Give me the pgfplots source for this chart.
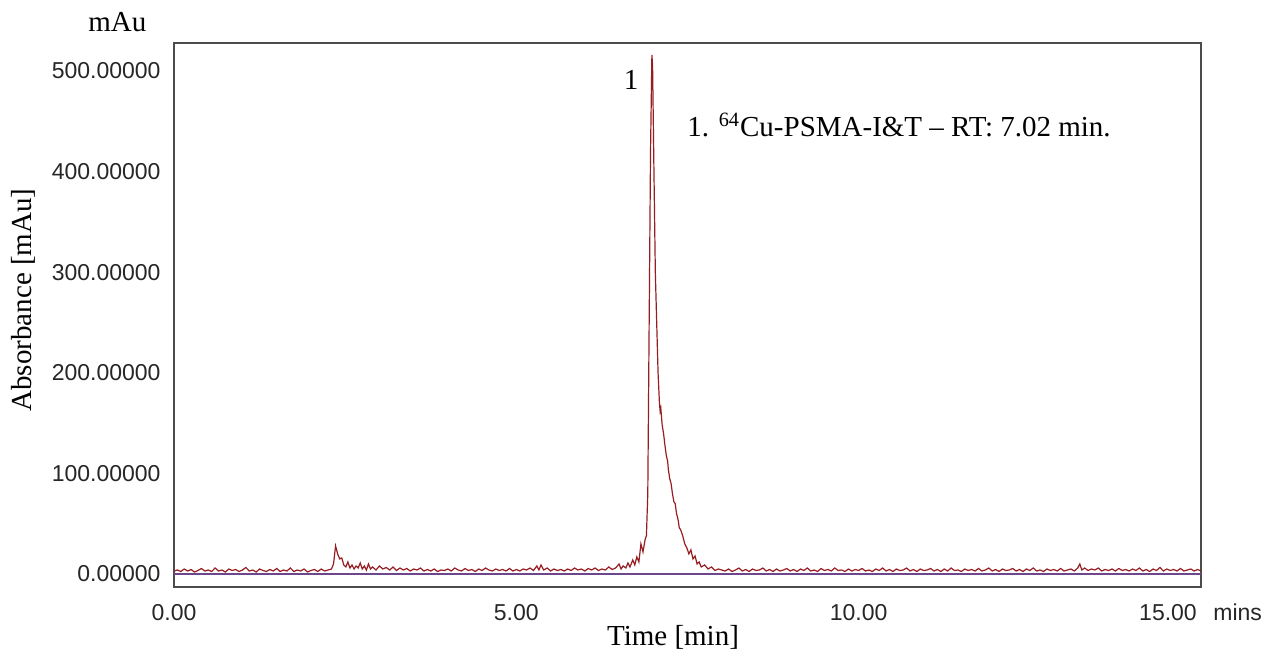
\documentclass[border=0pt]{standalone}
\usepackage{fontspec}
\setmainfont{Liberation Serif}
\newfontfamily\tickfont{Liberation Sans}
\usepackage{pgfplots}
\pgfplotsset{compat=1.18}
\definecolor{trace}{RGB}{150,30,35}
\definecolor{basecol}{RGB}{110,70,140}
\pgfplotstableread{
t a
0.00 3
0.05 4
0.10 2.5
0.15 5
0.20 3
0.25 4.5
0.30 2
0.35 3.5
0.40 5.5
0.45 3
0.50 4
0.55 2.5
0.60 6
0.65 3
0.70 4
0.75 2
0.80 5
0.85 3.5
0.90 4.5
0.95 2.5
1.00 4
1.05 6.5
1.10 3
1.15 4
1.20 2
1.25 5
1.30 3.5
1.35 2.5
1.40 4.5
1.45 3
1.50 5.5
1.55 2.5
1.60 4
1.65 3
1.70 6
1.75 2.5
1.80 4
1.85 3
1.90 5
1.95 2
2.00 3.5
2.05 4.5
2.10 2.5
2.15 5
2.20 3
2.25 4
2.30 5
2.33 10
2.36 28
2.39 20
2.42 15
2.45 16
2.48 9
2.51 7
2.54 12
2.57 6
2.60 9
2.63 5
2.66 8
2.69 6
2.72 11
2.75 5
2.78 8
2.81 4
2.84 10
2.87 5
2.90 7
2.95 4
3.00 8
3.05 5
3.10 6.5
3.15 4
3.20 7
3.25 3.5
3.30 6
3.35 4
3.40 5.5
3.45 3
3.50 5
3.55 4
3.60 6
3.65 3
3.70 4.5
3.75 3
3.80 5
3.85 2.5
3.90 4
3.95 3.5
4.00 5
4.05 3
4.10 6
4.15 4
4.20 3
4.25 5.5
4.30 3.5
4.35 4.5
4.40 2.5
4.45 5
4.50 3.5
4.55 6
4.60 4
4.65 3
4.70 5
4.75 3.5
4.80 4.5
4.85 3
4.90 5.5
4.95 3
5.00 4.5
5.05 3
5.10 5
5.15 4
5.20 6
5.25 3.5
5.30 8
5.33 4
5.36 9
5.40 4
5.45 6
5.50 3
5.55 5
5.60 3.5
5.65 4.5
5.70 3
5.75 5
5.80 3.5
5.85 6
5.90 4
5.95 5
6.00 3
6.05 5.5
6.10 4
6.15 6
6.20 3.5
6.25 5
6.30 4
6.35 7
6.40 4.5
6.45 6
6.50 10
6.53 5
6.56 8
6.60 6
6.63 11
6.66 7
6.70 14
6.73 9
6.76 17
6.79 12
6.82 30
6.85 22
6.88 34
6.90 38
6.92 80
6.94 250
6.96 420
6.98 516
6.99 505
7.01 400
7.03 300
7.05 250
7.07 200
7.09 170
7.10 162
7.11 165
7.13 148
7.15 140
7.17 128
7.19 118
7.21 112
7.22 104
7.24 95
7.26 90
7.28 80
7.30 72
7.32 70
7.34 60
7.36 55
7.38 46
7.40 44
7.43 38
7.46 30
7.49 26
7.52 20
7.55 24
7.58 15
7.61 18
7.64 10
7.67 12
7.70 7
7.75 9
7.80 5
7.85 7
7.90 3.5
7.95 5
8.00 4
8.05 3
8.10 5
8.15 2.5
8.20 4
8.25 6
8.30 3
8.35 4.5
8.40 2.5
8.45 5
8.50 3.5
8.55 4
8.60 6
8.65 3
8.70 4.5
8.75 2.5
8.80 5
8.85 3
8.90 4
8.95 5.5
9.00 3
9.05 4.5
9.10 2.5
9.15 5
9.20 3.5
9.25 6
9.30 3
9.35 4
9.40 2.5
9.45 5.5
9.50 3.5
9.55 4.5
9.60 3
9.65 6
9.70 3.5
9.75 4
9.80 2.5
9.85 5
9.90 3
9.95 4.5
10.00 3.5
10.05 5.5
10.10 3
10.15 4
10.20 2.5
10.25 5
10.30 3.5
10.35 6
10.40 3
10.45 4.5
10.50 2.5
10.55 5
10.60 3.5
10.65 4
10.70 6
10.75 3
10.80 4.5
10.85 2.5
10.90 5
10.95 3.5
11.00 4
11.05 5.5
11.10 3
11.15 4.5
11.20 2.5
11.25 5
11.30 3
11.35 6
11.40 3.5
11.45 4
11.50 2.5
11.55 5
11.60 3.5
11.65 4.5
11.70 3
11.75 5.5
11.80 3
11.85 4
11.90 6
11.95 3
12.00 4.5
12.05 2.5
12.10 5
12.15 3.5
12.20 4
12.25 5.5
12.30 3
12.35 4.5
12.40 2.5
12.45 5
12.50 3.5
12.55 6
12.60 3
12.65 4
12.70 2.5
12.75 5
12.80 3.5
12.85 4.5
12.90 3
12.95 5.5
13.00 3
13.05 4
13.10 5
13.15 3
13.20 6
13.23 10
13.26 4
13.30 6
13.35 3.5
13.40 5
13.45 4
13.50 6
13.55 3
13.60 4.5
13.65 3.5
13.70 5
13.75 3
13.80 5.5
13.85 3.5
13.90 4.5
13.95 3
14.00 5
14.05 3.5
14.10 6
14.15 3
14.20 4.5
14.25 2.5
14.30 5
14.35 3.5
14.40 6.5
14.45 3
14.50 5
14.55 3.5
14.60 4.5
14.65 3
14.70 5.5
14.75 3
14.80 4
14.85 5
14.90 3
14.95 4.5
15.00 3
}\chrom
\begin{document}
\begin{tikzpicture}
\path[use as bounding box] (-87pt,-33pt) rectangle (546.5pt,293.5pt);
\begin{axis}[
  at={(0pt,0pt)}, anchor=south west,
  scale only axis, width=513.5pt, height=272pt,
  xmin=0, xmax=15, ymin=-12.9, ymax=527.8,
  axis line style={black!70, line width=0.8pt},
  major tick length=0pt,
  xtick={0,5,10,15}, xticklabels={0.00,5.00,10.00,{}},
  ytick={0,100,200,300,400,500},
  yticklabels={0.00000,100.00000,200.00000,300.00000,400.00000,500.00000},
  tick label style={font=\tickfont\fontsize{11.5}{13}\selectfont, text=black!85},
  xticklabel style={anchor=base, yshift=-16.5pt},
  yticklabel style={anchor=east, xshift=-3.2pt},
  clip=true,
]
\addplot[basecol, line width=0.7pt] coordinates {(0,0) (15,0)};
\addplot[trace, line width=0.6pt] table[x=t, y=a] {\chrom};
\end{axis}
\node[anchor=base, font=\tickfont\fontsize{11.5}{13}\selectfont, text=black!85] at (497pt,-16.5pt) {15.00};
\node[anchor=base west, inner sep=0pt, font=\tickfont\fontsize{11.5}{13}\selectfont, text=black!85] at (519.5pt,-16.5pt) {mins};
\node[anchor=base, font=\fontsize{14.5}{17}\selectfont] at (249.5pt,-29pt) {Time [min]};
\node[rotate=90, font=\fontsize{14.5}{17}\selectfont] at (-75.5pt,143.5pt) {Absorbance [mAu]};
\node[anchor=base west, inner sep=0pt, font=\fontsize{14.5}{17}\selectfont] at (-43pt,277.5pt) {mAu};
\node[anchor=base, inner sep=0pt, font=\fontsize{14.5}{17}\selectfont] at (228.5pt,248.5pt) {1};
\node[anchor=base west, inner sep=0pt, font=\fontsize{14.5}{17}\selectfont] at (256.5pt,225pt) {1. \textsuperscript{64}Cu-PSMA-I\&T – RT: 7.02 min.};
\end{tikzpicture}
\end{document}
